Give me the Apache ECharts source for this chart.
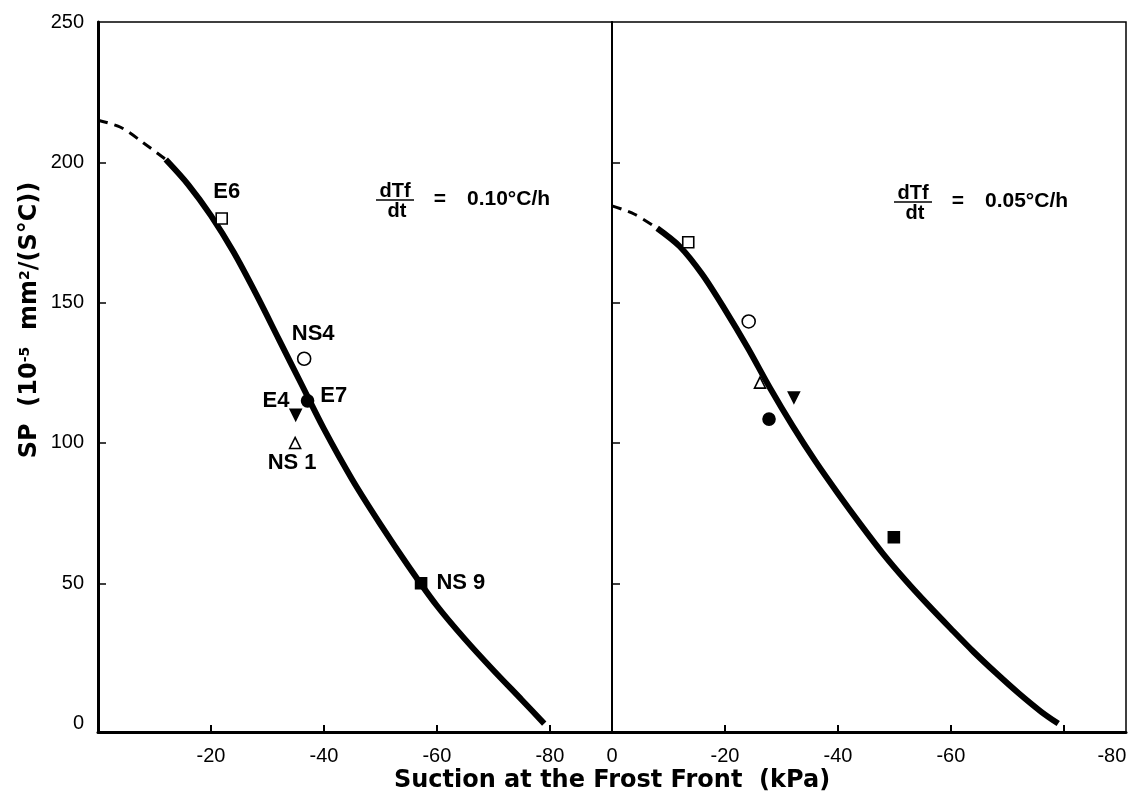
<!DOCTYPE html>
<html>
<head>
<meta charset="utf-8">
<script src="https://cdn.jsdelivr.net/npm/echarts@6/dist/echarts.min.js"></script>
<style>
  html, body { margin: 0; padding: 0; background: #fff; }
  #chart { width: 1131px; height: 805px; }
</style>
</head>
<body>
<div id="chart"></div>
<script>
// Segregation potential vs. suction at the frost front, two cooling rates.
const FONT = '"Liberation Sans", Arial, Helvetica, sans-serif';
const TITLE_FONT = '"DejaVu Sans", "Liberation Sans", Arial, sans-serif';

// y axis ticks / labels
const yTickLabels = [0, 50, 100, 150, 200, 250];
const yInnerTicks = [50, 100, 150, 200];
// x axis ticks / labels
const xInnerTicks = [-20, -40, -60, -80];
const leftXLabels = [-20, -40, -60, -80];
const rightXLabels = [0, -20, -40, -60, -80];

// Left panel (dTf/dt = 0.10 °C/h): fitted curve, extrapolated part dashed
const leftDashX = [0, -4, -8, -12];
const leftDashY = [215, 212.5, 207, 201];
const leftSolidX = [-12, -16, -20, -24, -28, -32, -36, -40, -45, -50, -55, -60, -65, -70, -75, -79];
const leftSolidY = [201, 192, 181, 168, 153, 137, 121, 105, 87, 71, 56, 42, 30, 19, 8.5, 0];

// Left panel test results
const sampleNames = ['E6', 'NS4', 'E7', 'E4', 'NS 1', 'NS 9'];
const leftPtX = [-21.9, -36.5, -37.1, -35, -34.9, -57.2];
const leftPtY = [180, 130, 115, 110, 100, 50];

// Right panel (dTf/dt = 0.05 °C/h)
const rightDashX = [0, -4, -8];
const rightDashY = [184.5, 181.5, 176.5];
const rightSolidX = [-8, -12, -16, -20, -24, -28, -32, -36, -40, -44, -48, -52, -56, -60, -64, -68, -72, -76, -79];
const rightSolidY = [176.5, 170, 160, 147.5, 134, 119.5, 106, 93.5, 82, 71, 60.5, 51, 42.2, 33.8, 25.6, 18, 10.8, 4.2, 0];
const rightPtX = [-13.5, -24.2, -27.8, -32.2, -26.2, -49.9];
const rightPtY = [171.5, 143.3, 108.5, 116.2, 121.5, 66.4];

// Marker look for each sample (same sample = same symbol in both panels)
const markerStyle = {
  'E6':   { symbol: 'rect',     size: 11, rotate: 0,   fill: '#fff', label: 'top' },
  'NS4':  { symbol: 'circle',   size: 13, rotate: 0,   fill: '#fff', label: 'top' },
  'E7':   { symbol: 'circle',   size: 12, rotate: 0,   fill: '#000', label: 'right' },
  'E4':   { symbol: 'triangle', size: 11, rotate: 180, fill: '#000', label: 'left' },
  'NS 1': { symbol: 'triangle', size: 11, rotate: 0,   fill: '#fff', label: 'bottom' },
  'NS 9': { symbol: 'rect',     size: 11, rotate: 0,   fill: '#000', label: 'right' }
};
const labelOffset = {
  'E6': [5, -3], 'NS4': [9, -1], 'E7': [0, -5], 'E4': [6, -14], 'NS 1': [-3, -3], 'NS 9': [3, 0]
};

const zip = (xs, ys) => xs.map((x, i) => [x, ys[i]]);

function points(xs, ys, withLabels) {
  return xs.map((x, i) => {
    const name = sampleNames[i];
    const m = markerStyle[name];
    return {
      name: name,
      value: [x, ys[i]],
      symbol: m.symbol,
      symbolSize: m.size,
      symbolRotate: m.rotate,
      itemStyle: { color: m.fill, borderColor: '#000', borderWidth: 1.6, opacity: 1 },
      label: {
        show: withLabels,
        position: m.label,
        offset: labelOffset[name],
        distance: 6,
        formatter: '{b}',
        color: '#000',
        fontFamily: FONT,
        fontWeight: 'bold',
        fontSize: 22
      }
    };
  });
}

function curve(xs, ys, idx, dashed) {
  return {
    type: 'line',
    xAxisIndex: idx,
    yAxisIndex: idx,
    data: zip(xs, ys),
    smooth: 0.3,
    showSymbol: false,
    silent: true,
    z: 2,
    lineStyle: dashed
      ? { color: '#000', width: 3, type: [10, 7], cap: 'butt' }
      : { color: '#000', width: 6, cap: 'butt', join: 'round' }
  };
}

function xAxisFor(idx, labels) {
  return {
    type: 'value',
    gridIndex: idx,
    min: -91,
    max: 0,
    inverse: true,
    axisLine: { show: true, onZero: false, lineStyle: { color: '#000', width: 3 } },
    axisTick: { show: true, inside: true, length: 7, customValues: xInnerTicks,
                lineStyle: { color: '#000', width: 2 } },
    axisLabel: {
      customValues: labels,
      margin: 14,
      color: '#000',
      fontFamily: FONT,
      fontSize: 20,
      formatter: idx === 1 ? (v => (v === -80 ? '{far|-80}' : String(v))) : (v => String(v)),
      rich: { far: { padding: [0, 0, 0, 96], color: '#000', fontFamily: FONT, fontSize: 20 } }
    },
    splitLine: { show: false }
  };
}

function yAxisFor(idx) {
  return {
    type: 'value',
    gridIndex: idx,
    min: -3,
    max: 250,
    axisLine: { show: true, lineStyle: { color: '#000', width: idx === 0 ? 3 : 2 } },
    axisTick: { show: true, inside: true, length: 8, customValues: yInnerTicks,
                lineStyle: { color: '#000', width: 1.5 } },
    axisLabel: {
      show: idx === 0,
      customValues: yTickLabels,
      margin: 14,
      color: '#000',
      fontFamily: FONT,
      fontSize: 20
    },
    splitLine: { show: false }
  };
}

function rateNote(cx, cy, valueText) {
  // dTf/dt written as a stacked fraction followed by the rate
  const base = { fill: '#000', fontFamily: FONT, fontWeight: 'bold' };
  return {
    type: 'group',
    children: [
      { type: 'text', x: cx, y: cy - 8, style: Object.assign({ text: 'dTf', fontSize: 20, align: 'center', verticalAlign: 'middle' }, base) },
      { type: 'line', shape: { x1: cx - 19, y1: cy + 1, x2: cx + 19, y2: cy + 1 }, style: { stroke: '#000', lineWidth: 1.5 } },
      { type: 'text', x: cx + 2, y: cy + 12, style: Object.assign({ text: 'dt', fontSize: 20, align: 'center', verticalAlign: 'middle' }, base) },
      { type: 'text', x: cx + 45, y: cy, style: Object.assign({ text: '=', fontSize: 21, align: 'center', verticalAlign: 'middle' }, base) },
      { type: 'text', x: cx + 72, y: cy, style: Object.assign({ text: valueText, fontSize: 21, align: 'left', verticalAlign: 'middle' }, base) }
    ]
  };
}

const chart = echarts.init(document.getElementById('chart'), null, { renderer: 'canvas' });

chart.setOption({
  backgroundColor: '#fff',
  animation: false,
  grid: [
    { left: 98, top: 22, width: 514, height: 710, show: true, borderColor: '#000', borderWidth: 1.5, backgroundColor: 'transparent' },
    { left: 612, top: 22, width: 514, height: 710, show: true, borderColor: '#000', borderWidth: 1.5, backgroundColor: 'transparent' }
  ],
  xAxis: [xAxisFor(0, leftXLabels), xAxisFor(1, rightXLabels)],
  yAxis: [yAxisFor(0), yAxisFor(1)],
  series: [
    curve(leftDashX, leftDashY, 0, true),
    curve(leftSolidX, leftSolidY, 0, false),
    { type: 'scatter', xAxisIndex: 0, yAxisIndex: 0, z: 5, data: points(leftPtX, leftPtY, true) },
    curve(rightDashX, rightDashY, 1, true),
    curve(rightSolidX, rightSolidY, 1, false),
    { type: 'scatter', xAxisIndex: 1, yAxisIndex: 1, z: 5, data: points(rightPtX, rightPtY, false) }
  ],
  graphic: [
    rateNote(395, 199, '0.10°C/h'),
    rateNote(913, 201, '0.05°C/h'),
    {
      type: 'text', x: 612, y: 781,
      style: { text: 'Suction at the Frost Front  (kPa)', fill: '#000', fontFamily: TITLE_FONT, fontWeight: 'bold',
               fontSize: 24, align: 'center', verticalAlign: 'middle' }
    },
    {
      type: 'text', x: 30, y: 320, rotation: Math.PI / 2,
      style: {
        text: '{m|SP  (10}{s|-5}{m|  mm}{s|2}{m|/(S°C))}',
        align: 'center', verticalAlign: 'middle',
        rich: {
          m: { fill: '#000', fontFamily: TITLE_FONT, fontWeight: 'bold', fontSize: 24 },
          s: { fill: '#000', fontFamily: TITLE_FONT, fontWeight: 'bold', fontSize: 14, verticalAlign: 'top', padding: [0, 0, 9, 0] }
        }
      }
    }
  ]
});
</script>
</body>
</html>
